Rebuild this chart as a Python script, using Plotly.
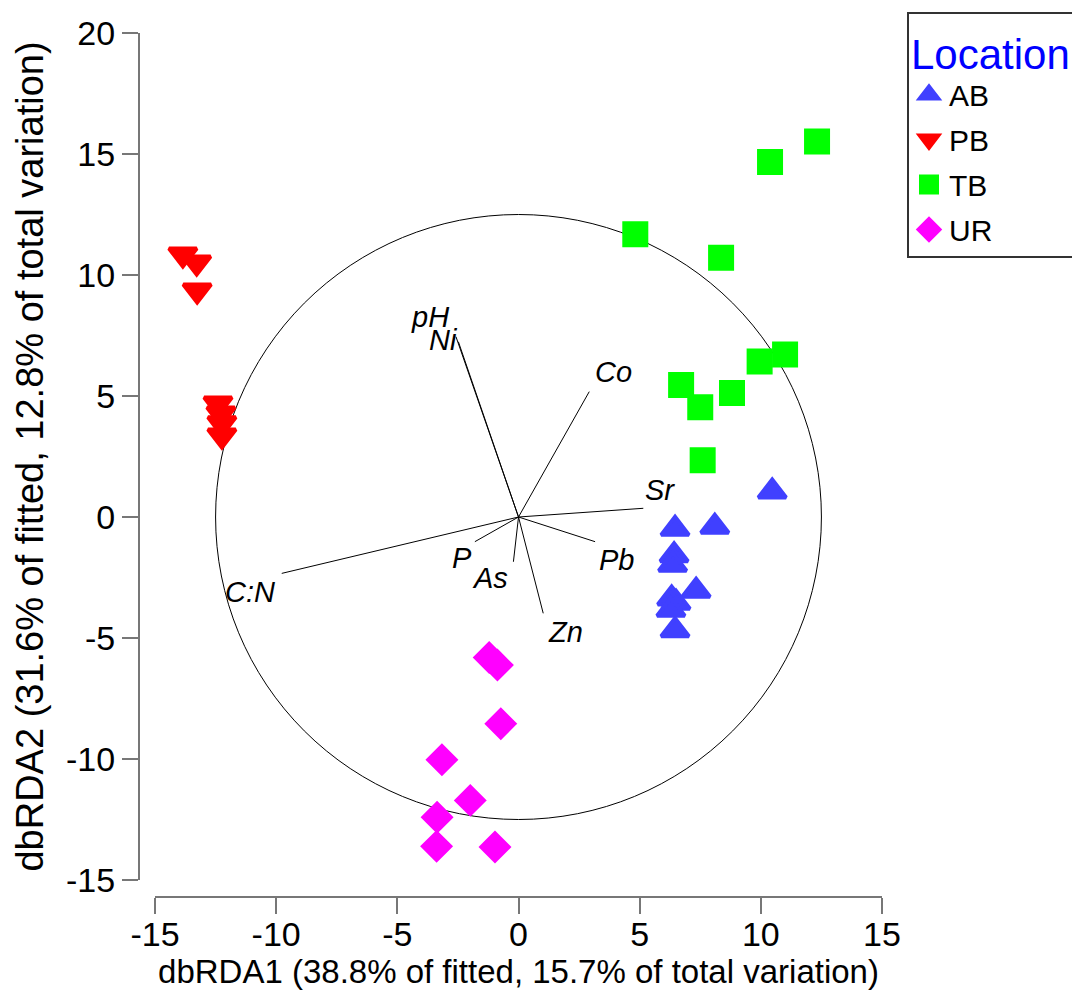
import plotly.graph_objects as go

# ---- data ----
ab_x = [10.47, 6.46, 8.10, 6.42, 6.36, 7.33, 6.32, 6.50, 6.29, 6.46]
ab_y = [1.05, -0.49, -0.40, -1.58, -1.97, -3.05, -3.37, -3.54, -3.83, -4.68]

pb_x = [-13.85, -13.28, -13.26, -12.40, -12.28, -12.24, -12.24]
pb_y = [10.85, 10.52, 9.36, 4.69, 4.28, 3.87, 3.37]

tb_x = [12.32, 10.38, 4.82, 8.36, 11.00, 9.95, 6.71, 8.81, 7.50, 7.60]
tb_y = [15.52, 14.67, 11.68, 10.71, 6.72, 6.43, 5.45, 5.12, 4.53, 2.34]

ur_x = [-1.21, -0.87, -0.73, -3.16, -1.99, -3.36, -3.38, -0.97]
ur_y = [-5.81, -6.12, -8.54, -10.03, -11.71, -12.41, -13.61, -13.64]

vec_names = ["pH", "Ni", "Co", "Sr", "Pb", "Zn", "As", "P", "C:N"]
vec_x = [-2.58, -2.48, 2.92, 5.15, 3.16, 1.02, -0.21, -1.80, -9.77]
vec_y = [7.45, 7.24, 5.18, 0.36, -1.02, -3.98, -1.85, -1.02, -2.33]
lab_x = [-3.65, -3.10, 3.90, 5.84, 4.05, 1.92, -1.18, -2.34, -11.08]
lab_y = [8.28, 7.31, 6.00, 1.12, -1.78, -4.74, -2.53, -1.71, -3.09]

circle_r = 12.5

x_ticks = [-15, -10, -5, 0, 5, 10, 15]
x_tick_labels = ["-15", "-10", "-5", "0", "5", "10", "15"]
y_ticks = [-15, -10, -5, 0, 5, 10, 15, 20]
y_tick_labels = ["-15", "-10", "-5", "0", "5", "10", "15", "20"]

FONT = "Liberation Sans, Arial, sans-serif"

fig = go.Figure()

# vectors
for i, name in enumerate(vec_names):
    fig.add_trace(go.Scatter(x=[0, vec_x[i]], y=[0, vec_y[i]], mode="lines",
                             line=dict(color="black", width=1), showlegend=False,
                             hoverinfo="skip"))
    fig.add_annotation(x=lab_x[i], y=lab_y[i], text="<i>" + name + "</i>",
                       showarrow=False, font=dict(family=FONT, size=29, color="black"))

groups = [
    ("AB", ab_x, ab_y, "triangle-up", "#4040ff", 24),
    ("PB", pb_x, pb_y, "triangle-down", "#ff0000", 24),
    ("TB", tb_x, tb_y, "square", "#00ff00", 22),
    ("UR", ur_x, ur_y, "diamond", "#ff00ff", 21),
]
for name, xs, ys, sym, col, sz in groups:
    fig.add_trace(go.Scatter(x=xs, y=ys, mode="markers", name=name, legendgroup=name,
                             marker=dict(symbol=sym, color=col, size=sz,
                                         line=dict(width=4, color=col))))

fig.add_shape(type="circle", xref="x", yref="y", x0=-circle_r, x1=circle_r,
              y0=-circle_r, y1=circle_r, line=dict(color="black", width=1), layer="below")

W, H = 1072, 985
ml, mr, mt, mb = 131, 198, 25, 96
pw = W - ml - mr
ph = H - mt - mb
AX = "#777777"

fig.update_layout(
    width=W, height=H, autosize=False,
    margin=dict(l=ml, r=mr, t=mt, b=mb, pad=0, autoexpand=False),
    paper_bgcolor="white", plot_bgcolor="white",
    font=dict(family=FONT, color="black"),
    xaxis=dict(range=[-15, 15], domain=[16 / pw, 1], anchor="free", position=0,
               automargin=False,
               tickvals=x_ticks, ticktext=x_tick_labels, showgrid=False, zeroline=False,
               showline=True, linecolor=AX, linewidth=2,
               ticks="outside", ticklen=16, tickwidth=2, tickcolor=AX,
               ticklabelstandoff=-9,
               tickfont=dict(size=34, family=FONT),
               title=dict(text="dbRDA1 (38.8% of fitted, 15.7% of total variation)",
                          font=dict(size=33, family=FONT), standoff=6)),
    yaxis=dict(range=[-15, 20], domain=[17 / ph, 1], anchor="free", position=0,
               automargin=False,
               tickvals=y_ticks, ticktext=y_tick_labels, showgrid=False, zeroline=False,
               showline=True, linecolor=AX, linewidth=2,
               ticks="outside", ticklen=16, tickwidth=2, tickcolor=AX,
               tickfont=dict(size=34, family=FONT),
               title=dict(text="dbRDA2 (31.6% of fitted, 12.8% of total variation)",
                          font=dict(size=38, family=FONT), standoff=10)),
    legend=dict(x=(899 - ml) / pw, y=(889 - 4) / ph, xanchor="left", yanchor="top",
                bordercolor="#333333", borderwidth=2, bgcolor="white",
                font=dict(size=30, family=FONT),
                title=dict(text="Location", font=dict(size=42, color="#0000ff", family=FONT)),
                traceorder="grouped", tracegroupgap=3, itemsizing="trace"),
    showlegend=True,
)

fig.write_html("out.html")
